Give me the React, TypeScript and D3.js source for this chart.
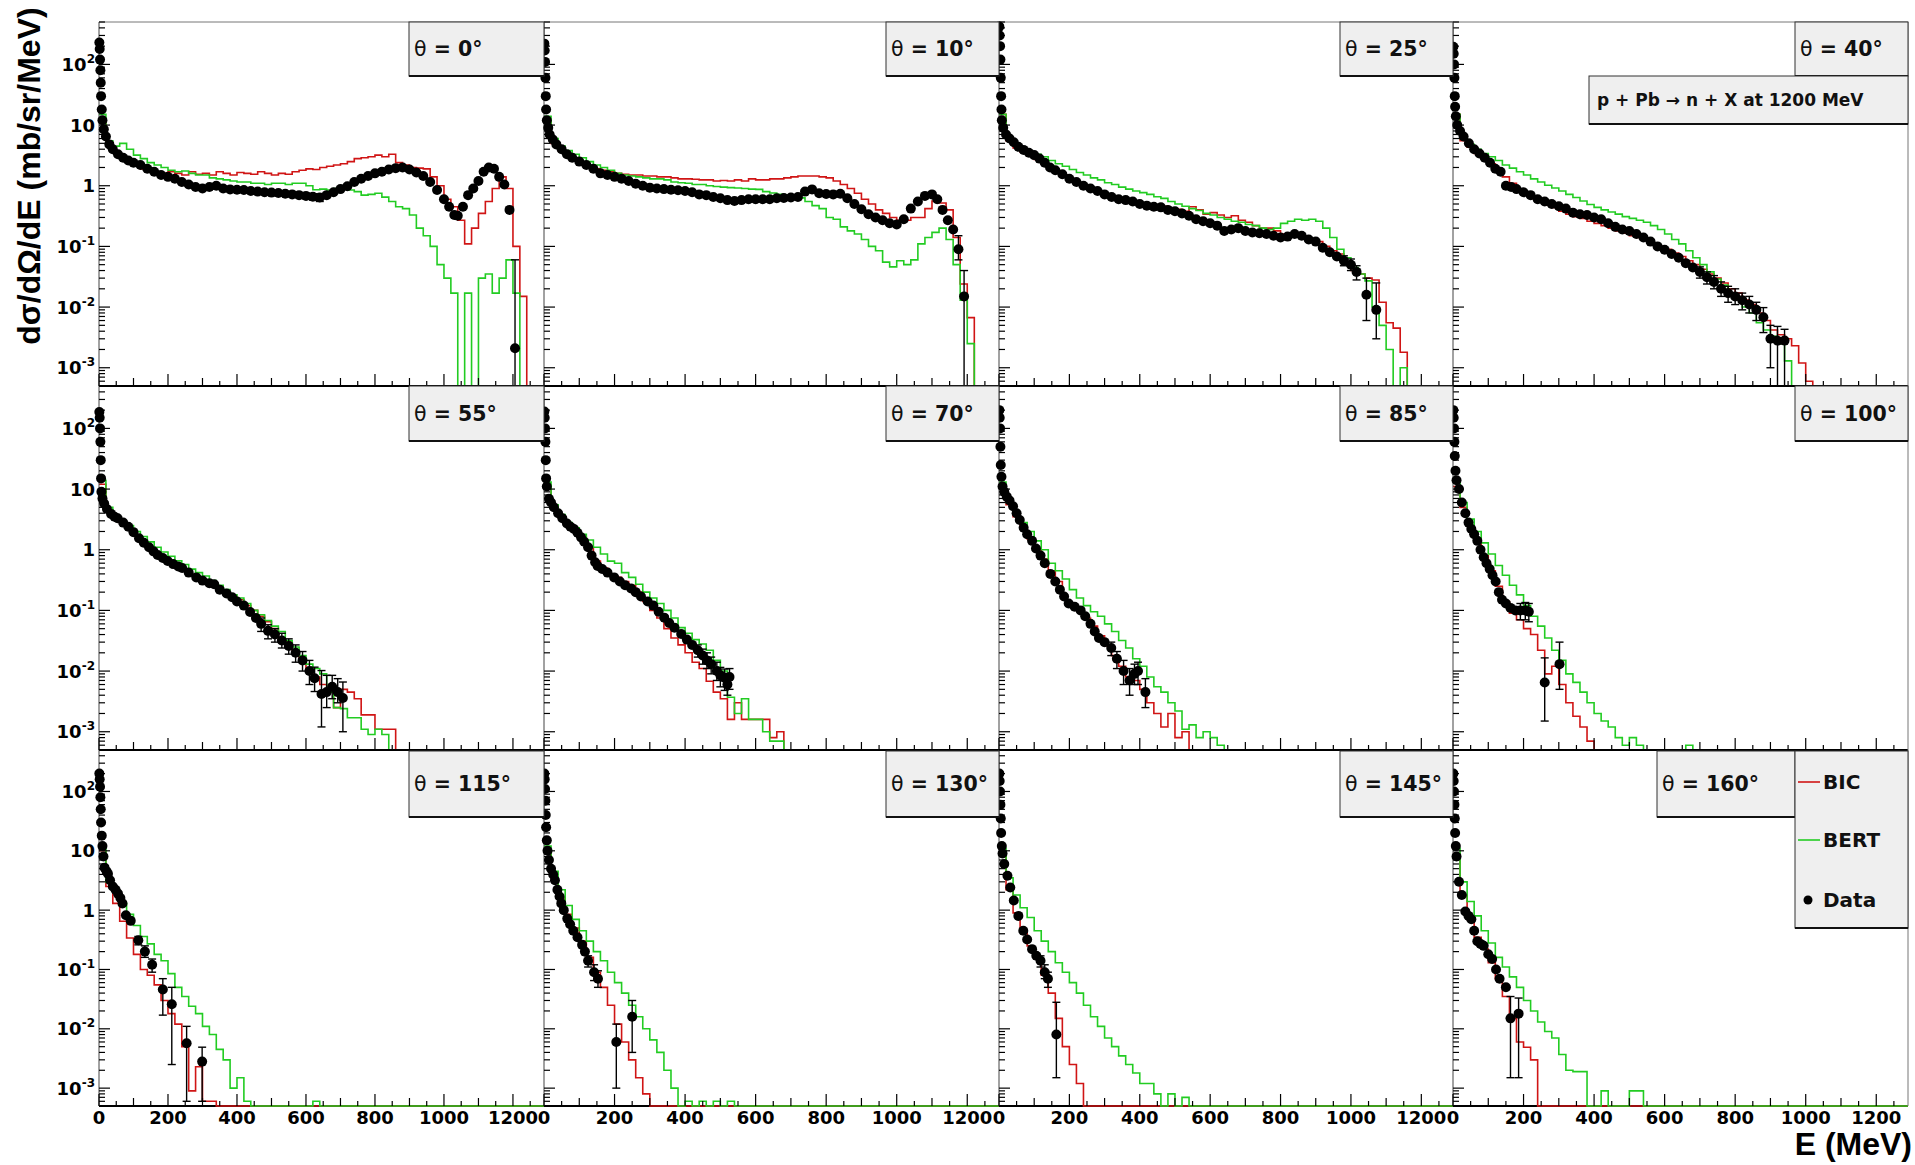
import React from "react";
import * as d3 from "d3";

// ---------- layout ----------
const WIDTH = 1915;
const HEIGHT = 1165;
const COL_EDGES = [99, 544, 999, 1453, 1908];
const ROW_EDGES = [22, 386, 750, 1106];
const E_MAX = 1290;
const Y_LO = 5e-4;
const Y_HI = 500;
const BIN_WIDTH = 20; // MeV, histogram bin width

const RED = "#d01515";
const GREEN = "#22cc22";
const TICK_FONT = "'DejaVu Sans', Verdana, sans-serif";
const TITLE_FONT = "'Liberation Sans', Arial, Helvetica, sans-serif";

// ---------- labels ----------
const angles = ["0", "10", "25", "40", "55", "70", "85", "100", "115", "130", "145", "160"];
const xTickValues = [0, 200, 400, 600, 800, 1000, 1200];
const yLabelValues = [1e-3, 1e-2, 1e-1, 1, 10, 100];
const yLabelBase = ["10", "10", "10", "1", "10", "10"];
const yLabelSup = ["-3", "-2", "-1", "", "", "2"];
const legendNames = ["BIC", "BERT", "Data"];

// ---------- BIC histograms (20 MeV bins from 0) ----------
const bic0 = [12,5,3.6,3.0,2.6,2.2,1.9,1.8,1.7,1.6, 1.7,1.6,1.5,1.7,1.55,1.6,1.5,1.7,1.6,1.5, 1.65,1.6,1.55,1.7,1.6,1.5,1.6,1.55,1.7,1.8, 1.9,1.85,2.0,2.1,2.2,2.3,2.5,2.8,2.9,3.0, 3.2,3.0,3.3,2.4,2.2,2.0,1.95,1.9,1.4,1.0, 0.6,0.45,0.27,0.11,0.2,0.35,0.55,0.9,1.4,0.9, 0.1,0.015];
const bic10 = [12,5.0,3.8,3.0,2.6,2.3,2.1,1.9,1.8,1.7, 1.6,1.55,1.5,1.5,1.45,1.45,1.4,1.4,1.35,1.3, 1.3,1.28,1.25,1.25,1.2,1.22,1.2,1.25,1.2,1.3, 1.25,1.25,1.3,1.3,1.35,1.4,1.45,1.45,1.45,1.4, 1.35,1.2,1.05,0.9,0.75,0.6,0.5,0.4,0.35,0.3, 0.27,0.27,0.3,0.3,0.42,0.56,0.52,0.4,0.14,0.024, 0.0067];
const bic25 = [15,5.5,4.2,3.6,3.2,2.7,2.3,2.0,1.7,1.5, 1.3,1.1,1.0,0.9,0.8,0.7,0.66,0.62,0.58,0.55, 0.5,0.48,0.47,0.46,0.43,0.41,0.38,0.45,0.4,0.34, 0.36,0.33,0.3,0.32,0.27,0.25,0.22,0.2,0.2,0.18, 0.16,0.16,0.16,0.15,0.13,0.12,0.1,0.085,0.075,0.055, 0.04,0.035,0.03,0.028,0.012,0.0055,0.0045,0.0018];
const bic40 = [15,5.5,4.3,3.4,2.8,2.3,1.8,1.4,1.1,0.88, 0.72,0.62,0.54,0.48,0.44,0.38,0.34,0.31,0.29,0.26, 0.24,0.22,0.2,0.18,0.165,0.15,0.14,0.125,0.11,0.1, 0.09,0.078,0.068,0.058,0.05,0.042,0.035,0.03,0.025,0.02, 0.017,0.013,0.011,0.008,0.006,0.0042,0.0035,0.003,0.0023,0.0012, 0.0006];
const bic55 = [12,4.5,3.3,2.7,2.2,1.7,1.35,1.05,0.85,0.7, 0.6,0.52,0.45,0.39,0.34,0.3,0.27,0.23,0.2,0.17, 0.15,0.12,0.1,0.08,0.065,0.05,0.032,0.03,0.022,0.016, 0.011,0.008,0.006,0.0045,0.0025,0.005,0.0045,0.0035,0.0019,0.0019, 0.0011,0.0011,0.0011];
const bic70 = [11,5,3.4,2.6,2.1,1.6,1.1,0.65,0.5,0.4, 0.35,0.3,0.26,0.2,0.14,0.1,0.075,0.05,0.035,0.027, 0.02,0.014,0.011,0.0068,0.0045,0.0035,0.0016,0.003,0.0016,0.0016, 0.0016,0.0016,0.0008,0.001];
const bic85 = [11,5.5,3.5,2.2,1.5,1.0,0.7,0.45,0.3,0.15, 0.12,0.1,0.075,0.055,0.038,0.026,0.018,0.012,0.008,0.007, 0.005,0.003,0.002,0.0012,0.002,0.0008,0.001];
const bic100 = [11,5,2.5,1.4,0.8,0.45,0.25,0.14,0.09,0.07, 0.05,0.04,0.022,0.009,0.012,0.006,0.003,0.0018,0.0012,0.0007];
const bic115 = [10,2.5,1.3,0.65,0.34,0.18,0.1,0.08,0.055,0.03, 0.018,0.012,0.005,0.0009,0.0023,0.0006,0.0006,0.0005];
const bic130 = [10,3.5,1.6,0.85,0.5,0.3,0.16,0.09,0.05,0.025, 0.012,0.006,0.003,0.0015,0.0008];
const bic145 = [9,2.2,0.9,0.45,0.25,0.15,0.08,0.04,0.015,0.005, 0.0025,0.0012];
const bic160 = [9,1.8,0.7,0.35,0.22,0.13,0.07,0.035,0.015,0.006, 0.0049,0.003];

// ---------- BERT histograms (20 MeV bins from 0) ----------
const bert0 = [15,5.5,4.5,5.0,4.0,3.2,2.8,2.4,2.2,2.0, 1.8,1.7,1.75,1.6,1.5,1.5,1.35,1.3,1.25,1.2, 1.15,1.15,1.1,1.1,1.05,1.1,1.1,1.05,1.1,1.1, 1.0,0.86,0.88,0.85,0.9,0.95,0.85,0.8,0.7,0.72, 0.75,0.65,0.55,0.45,0.42,0.33,0.2,0.15,0.1,0.05, 0.03,0.017,0,0.017,0,0.03,0.035,0.017,0.03,0.06, 0.017,0];
const bert10 = [14,6,4.5,3.8,3.3,2.9,2.5,2.2,2.0,1.8, 1.6,1.5,1.45,1.4,1.35,1.3,1.3,1.25,1.15,1.12, 1.1,1.05,1.05,1.0,0.97,0.95,0.93,0.92,0.9,0.88, 0.87,0.8,0.76,0.72,0.7,0.67,0.63,0.55,0.47,0.42, 0.3,0.28,0.21,0.18,0.16,0.13,0.1,0.085,0.055,0.046, 0.058,0.05,0.06,0.11,0.14,0.17,0.2,0.13,0.05,0.013, 0.0025];
const bert25 = [15,6,4.8,4.0,3.6,3.3,3.0,2.6,2.3,2.1, 1.85,1.65,1.5,1.35,1.25,1.12,1.05,0.95,0.88,0.82, 0.77,0.72,0.66,0.62,0.55,0.5,0.46,0.42,0.39,0.35, 0.33,0.3,0.28,0.26,0.25,0.23,0.22,0.2,0.19,0.2, 0.24,0.26,0.28,0.27,0.28,0.26,0.2,0.14,0.09,0.065, 0.045,0.035,0.027,0.01,0.005,0.002,0,0.001];
const bert40 = [15,6,4.8,4.0,3.4,3.0,2.6,2.2,1.95,1.7, 1.5,1.3,1.15,1.02,0.92,0.82,0.72,0.64,0.56,0.49, 0.44,0.4,0.37,0.34,0.31,0.29,0.27,0.25,0.22,0.19, 0.16,0.13,0.11,0.085,0.065,0.05,0.038,0.029,0.023,0.017, 0.014,0.01,0.008,0.0055,0.0042,0.0033,0.0025,0.0013,0,0, 0.0005];
const bert55 = [14,5,3.6,2.9,2.5,2.0,1.65,1.35,1.1,0.92, 0.78,0.66,0.57,0.48,0.42,0.37,0.31,0.26,0.22,0.18, 0.16,0.13,0.1,0.085,0.068,0.055,0.045,0.032,0.025,0.018, 0.013,0.011,0.009,0.0045,0.0025,0.0024,0.0017,0.0017,0.0011,0.0009, 0.0011,0.0009];
const bert70 = [13,5.5,3.8,2.8,2.3,1.8,1.45,1.1,0.85,0.65, 0.6,0.42,0.35,0.27,0.2,0.16,0.13,0.1,0.075,0.052, 0.042,0.033,0.028,0.022,0.015,0.01,0.0037,0.002,0.0035,0.0016, 0.0016,0.001,0.0007,0.0007];
const bert85 = [13,6,4.2,2.8,2.0,1.4,1.0,0.6,0.45,0.33, 0.22,0.16,0.12,0.095,0.08,0.06,0.045,0.032,0.024,0.016, 0.012,0.008,0.0055,0.0045,0.003,0.0022,0.0011,0.0013,0.0008,0.001, 0.0008,0.0006];
const bert100 = [13,6,3.2,2.0,1.3,0.85,0.55,0.38,0.26,0.18, 0.12,0.08,0.055,0.035,0.022,0.015,0.009,0.0065,0.0045,0.003, 0.002,0.0015,0.0012,0.0008,0.0006,0.0008,0.0006,0,0,0, 0,0,0,0.0006];
const bert115 = [11,3.0,2.0,1.3,0.85,0.55,0.36,0.27,0.18,0.14, 0.085,0.05,0.035,0.024,0.018,0.011,0.008,0.0045,0.003,0.001, 0.0015,0.0006,0,0,0,0,0,0,0,0, 0,0.0006];
const bert130 = [12,4.5,2.2,1.2,0.7,0.45,0.3,0.2,0.14,0.09, 0.06,0.04,0.025,0.016,0.01,0.0065,0.004,0.002,0.001,0, 0.0006,0,0.0006,0,0.0006,0,0.0006];
const bert145 = [11,3.5,1.8,1.1,0.75,0.45,0.3,0.2,0.13,0.09, 0.06,0.04,0.025,0.016,0.011,0.007,0.005,0.0035,0.0025,0.0018, 0.0012,0.0012,0.0008,0,0.0008,0,0.0007];
const bert160 = [11,3,1.4,0.8,0.45,0.28,0.16,0.11,0.075,0.05, 0.03,0.02,0.013,0.009,0.007,0.0037,0.002,0.0019,0.0019,0, 0,0.0009,0,0,0,0.0009,0.0009];

// ---------- measured data: [E, value, errLow, errHigh] ----------
const data0 = [[1,230],[2,180],[3,120],[4,80],[5,50],[6,30],[8,18],[10,12],[14,8.5],[20,6.5],[30,4.8],[40,4.0],[55,3.3],[70,2.9],[85,2.6],[100,2.4],[120,2.2],[140,1.9],[160,1.7],[180,1.5],[200,1.4],[220,1.3],[240,1.15],[260,1.05],[280,0.95],[300,0.9],[320,0.95],[340,1.0],[360,0.9],[380,0.87],[400,0.86],[420,0.85],[440,0.82],[460,0.8],[480,0.78],[500,0.77],[520,0.76],[540,0.74],[560,0.72],[580,0.7,0.06,0.06],[600,0.68,0.07,0.07],[620,0.66,0.08,0.08],[640,0.64,0.09,0.09],[660,0.7,0.06,0.06],[680,0.78],[700,0.88],[720,0.98],[740,1.15],[760,1.3],[780,1.45],[800,1.6],[820,1.7],[840,1.85],[860,1.95],[880,2.0],[900,1.85],[920,1.65],[940,1.45],[960,1.15],[980,0.85],[1000,0.6],[1015,0.45],[1030,0.33],[1040,0.32],[1055,0.45],[1070,0.7],[1085,0.9],[1100,1.2],[1115,1.7],[1130,2.0],[1145,1.9],[1160,1.4],[1175,1.05],[1190,0.4],[1206,0.0021,0.0021,0.058]];
const data10 = [[1,220],[2,170],[3,110],[4,60],[5,30],[6,18],[8,12],[12,9],[16,7],[25,5.8],[35,4.8],[50,4.0],[65,3.3],[80,2.9],[100,2.5],[120,2.2],[140,1.9],[160,1.6],[180,1.5],[200,1.4],[220,1.3],[240,1.2],[260,1.08],[280,1.0],[300,0.93],[320,0.9],[340,0.88],[360,0.86],[380,0.84],[400,0.82],[420,0.78],[440,0.72],[460,0.7],[480,0.65],[500,0.62],[520,0.58],[540,0.56],[560,0.58],[580,0.6],[600,0.6],[620,0.6],[640,0.6],[660,0.62],[680,0.63],[700,0.64],[720,0.65],[740,0.8],[760,0.87],[780,0.75],[800,0.73],[820,0.72],[840,0.74],[860,0.62],[880,0.5],[900,0.41],[920,0.34],[940,0.3],[960,0.27],[980,0.24],[1000,0.23],[1020,0.28],[1040,0.42],[1060,0.55],[1080,0.68],[1100,0.72],[1115,0.6],[1130,0.4],[1145,0.27],[1160,0.19],[1175,0.09,0.03,0.06],[1191,0.015,0.015,0.025]];
const data25 = [[1,420],[2,300],[3,200],[4,120],[5,60],[6,30],[7,18],[8,12],[12,9],[20,7],[30,6],[42,5.2],[55,4.4],[70,3.9],[85,3.5],[100,3.2],[115,2.8],[130,2.4],[145,2.0],[160,1.8],[180,1.55],[200,1.3],[220,1.15],[240,1.0],[260,0.9],[280,0.82],[300,0.72],[320,0.65],[340,0.6],[360,0.58],[380,0.55],[400,0.5],[420,0.47],[440,0.45],[460,0.44],[480,0.4],[500,0.38],[520,0.35],[540,0.32],[560,0.28],[580,0.26],[600,0.24],[620,0.22],[640,0.18],[660,0.19],[680,0.2],[700,0.18],[720,0.17],[740,0.165],[760,0.16],[780,0.15],[800,0.14],[820,0.145],[840,0.16],[860,0.15],[880,0.13],[900,0.12],[920,0.095],[940,0.08],[960,0.068],[980,0.058,0.01,0.012],[1000,0.05,0.01,0.012],[1016,0.038,0.01,0.01],[1044,0.016,0.01,0.014],[1072,0.009,0.006,0.016]];
const data40 = [[1,195],[2,150],[3,100],[4,60],[5,30],[6,20],[8,14],[12,10],[20,8],[30,6.5],[45,5],[60,4.0],[75,3.4],[90,2.9],[105,2.4],[120,1.9],[135,1.7],[150,1.0],[165,0.95],[180,0.88],[200,0.78],[220,0.7],[240,0.6],[260,0.55],[280,0.5],[300,0.46],[320,0.42],[340,0.36],[360,0.34],[380,0.33],[400,0.3],[420,0.28],[440,0.24],[460,0.21],[480,0.19],[500,0.18],[520,0.16],[540,0.14],[560,0.12],[580,0.1],[600,0.088],[620,0.075],[640,0.065],[660,0.053],[680,0.045],[700,0.038,0.008,0.008],[720,0.031,0.007,0.007],[740,0.026,0.006,0.007],[760,0.02,0.005,0.006],[780,0.017,0.005,0.005],[800,0.015,0.004,0.005],[820,0.013,0.004,0.004],[840,0.011,0.003,0.004],[860,0.009,0.003,0.003],[880,0.0068,0.003,0.003],[900,0.003,0.002,0.002],[920,0.0028,0.0028,0.002],[940,0.0028,0.0028,0.0015]];
const data55 = [[1,187],[2,150],[3,100],[4,60],[5,30],[6,15],[7,9],[10,7],[15,5.8],[23,4.7],[35,3.9],[45,3.5],[54,3.3],[70,2.8],[85,2.4],[100,1.95],[116,1.55],[130,1.3],[145,1.1],[158,0.94],[170,0.82],[185,0.73],[199,0.65],[215,0.58],[230,0.53],[241,0.5],[260,0.42],[282,0.35],[300,0.31],[320,0.28],[334,0.27],[350,0.22],[370,0.19],[386,0.165],[400,0.14],[420,0.12],[438,0.094],[455,0.075],[470,0.06,0.015,0.015],[490,0.046,0.012,0.012],[510,0.04,0.01,0.01],[530,0.032,0.008,0.01],[550,0.026,0.007,0.008],[570,0.02,0.006,0.007],[590,0.015,0.005,0.006],[610,0.01,0.004,0.005],[625,0.0076,0.003,0.004],[645,0.0042,0.003,0.006],[660,0.0045,0.002,0.004],[676,0.0055,0.002,0.003],[692,0.0045,0.0015,0.003],[707,0.0036,0.0026,0.003]];
const data70 = [[1,190],[2,150],[3,100],[4,60],[5,30],[6,15],[8,11],[14,6.9],[20,6],[28,5],[40,4],[52,3.3],[65,2.7],[75,2.4],[85,2.2],[95,1.9],[105,1.6],[114,1.35],[125,1.1],[135,0.8],[145,0.62],[152,0.54],[165,0.48],[180,0.42],[199,0.35],[215,0.3],[230,0.26],[247,0.23],[260,0.2],[275,0.17],[294,0.14],[310,0.12],[325,0.095],[341,0.076],[355,0.062],[370,0.052],[389,0.041],[405,0.033],[420,0.027],[436,0.022,0.005,0.005],[450,0.018,0.005,0.005],[462,0.015,0.004,0.005],[474,0.013,0.004,0.004],[490,0.01,0.003,0.004],[500,0.0085,0.003,0.003],[512,0.0078,0.003,0.003],[520,0.006,0.002,0.003],[526,0.008,0.003,0.003]];
const data85 = [[1,200],[2,150],[3,100],[4,50],[5,25],[7,16],[10,11],[15,9],[22,7.5],[30,6.5],[40,5.2],[50,4],[59,3.1],[70,2.3],[80,1.8],[94,1.4],[105,1.05],[118,0.8],[130,0.6],[146,0.4],[160,0.3],[173,0.22],[185,0.17],[198,0.13],[215,0.115],[232,0.1],[245,0.08],[260,0.06],[272,0.045],[284,0.035],[300,0.03],[319,0.024,0.006,0.006],[335,0.016,0.005,0.005],[354,0.01,0.004,0.005],[371,0.007,0.003,0.004],[385,0.009,0.003,0.004],[395,0.01,0.004,0.004],[416,0.0045,0.002,0.003]];
const data100 = [[1,200],[2,150],[3,100],[4,60],[5,35],[7,20],[10,14],[17,10],[25,6],[35,4],[44,2.8],[52,2.2],[60,1.8],[69,1.4],[78,1.0],[87,0.75],[95,0.6],[104,0.48],[112,0.38],[121,0.3],[130,0.2],[139,0.15],[150,0.13],[163,0.11],[177,0.1],[191,0.1,0.03,0.03],[205,0.1,0.03,0.035],[215,0.095,0.03,0.035],[260,0.0065,0.005,0.01],[302,0.013,0.008,0.017]];
const data115 = [[1,200],[2,160],[3,120],[4,80],[5,50],[6,30],[8,18],[10,12],[13,8],[16,5.2],[22,4.5],[26,4.1],[32,3.2],[40,2.5],[48,2.2],[55,1.9],[62,1.6],[68,1.3],[78,0.82],[92,0.66],[114,0.31,0.05,0.05],[133,0.2,0.04,0.05],[154,0.12,0.03,0.03],[185,0.046,0.029,0.024],[211,0.026,0.0235,0.024],[254,0.0057,0.0051,0.0053],[299,0.0028,0.0022,0.0021]];
const data130 = [[1,200],[2,160],[3,110],[4,70],[5,40],[6,25],[8,15],[10,10],[14,7],[20,5],[26,4],[31,3.2],[38,2.2],[44,1.7],[49,1.3],[56,1.0],[66,0.72],[74,0.58],[83,0.45],[95,0.35],[108,0.26],[116,0.2],[125,0.14,0.03,0.03],[142,0.09,0.025,0.03],[153,0.07,0.02,0.025],[205,0.006,0.005,0.006],[250,0.016,0.012,0.014]];
const data145 = [[1,200],[2,150],[3,100],[4,60],[5,35],[6,20],[8,12],[10,9],[15,6],[24,3.8],[32,2.4],[42,1.45],[55,0.8],[69,0.45],[80,0.32],[94,0.22],[106,0.17],[118,0.14,0.03,0.03],[130,0.09,0.02,0.03],[139,0.07,0.02,0.02],[163,0.008,0.0065,0.02]];
const data160 = [[1,200],[2,150],[3,100],[4,60],[5,35],[6,20],[8,12],[10,8],[17,3],[25,1.8],[35,0.95],[44,0.8],[52,0.7],[60,0.45],[69,0.3],[78,0.27],[87,0.25],[100,0.18],[111,0.15],[122,0.1],[132,0.07],[150,0.05],[163,0.015,0.0135,0.02],[186,0.018,0.0165,0.015]];

const bicSeries = [bic0, bic10, bic25, bic40, bic55, bic70, bic85, bic100, bic115, bic130, bic145, bic160];
const bertSeries = [bert0, bert10, bert25, bert40, bert55, bert70, bert85, bert100, bert115, bert130, bert145, bert160];
const dataSeries = [data0, data10, data25, data40, data55, data70, data85, data100, data115, data130, data145, data160];

const BOX_ROWS = [[22, 76], [386, 441], [751, 817]];
const MARKER_R = 5;

function Panel({ idx }: { idx: number }) {
  const col = idx % 4;
  const row = Math.floor(idx / 4);
  const left = COL_EDGES[col];
  const right = COL_EDGES[col + 1];
  const top = ROW_EDGES[row];
  const bottom = ROW_EDGES[row + 1];
  const x = d3.scaleLinear().domain([0, E_MAX]).range([left, right]);
  const y = d3.scaleLog().domain([Y_LO, Y_HI]).range([bottom, top]);
  const yv = (v: number) => (v > Y_LO ? y(v) : bottom);
  const step = d3
    .line<number[]>()
    .x((d) => x(d[0]))
    .y((d) => yv(d[1]))
    .curve(d3.curveStepAfter);
  const hist = (vals: number[]) => {
    const pts = vals.map((v, i) => [i * BIN_WIDTH, v]);
    pts.push([vals.length * BIN_WIDTH, 0], [E_MAX, 0]);
    return step(pts) || "";
  };
  const clipId = `clip-${idx}`;
  const isBottom = row === 2;

  const yTicks: [number, boolean][] = [];
  for (let e = -4; e <= 2; e++) {
    for (let k = 1; k <= 9; k++) {
      const v = k * Math.pow(10, e);
      if (v >= Y_LO * 0.999 && v <= Y_HI * 1.001) yTicks.push([v, k === 1]);
    }
  }
  const xTicks = d3.range(0, E_MAX + 1, 50);

  const bottomAxis = (
    <line x1={left} x2={right} y1={bottom} y2={bottom} stroke="#000" strokeWidth={2.2} />
  );

  return (
    <g>
      <defs>
        <clipPath id={clipId}>
          <rect x={left} y={top} width={right - left} height={bottom - top + 2} />
        </clipPath>
      </defs>
      {isBottom && bottomAxis}
      <g clipPath={`url(#${clipId})`} fill="none" strokeWidth={1.6}>
        <path d={hist(bicSeries[idx])} stroke={RED} />
        <path d={hist(bertSeries[idx])} stroke={GREEN} />
      </g>
      {!isBottom && bottomAxis}
      <line x1={left} x2={left} y1={top} y2={bottom} stroke="#444" strokeWidth={1} />
      {row === 0 && <line x1={left} x2={right} y1={top} y2={top} stroke="#777" strokeWidth={1} />}
      {col === 3 && <line x1={right} x2={right} y1={top} y2={bottom} stroke="#777" strokeWidth={1} />}
      <g stroke="#000" strokeWidth={1.2}>
        {yTicks.map(([v, major], i) => (
          <line key={`yt${i}`} x1={left} x2={left + (major ? 11 : 6)} y1={y(v)} y2={y(v)} />
        ))}
        {xTicks.map((v, i) => (
          <line
            key={`xt${i}`}
            x1={x(v)}
            x2={x(v)}
            y1={bottom}
            y2={bottom - (v % 200 === 0 ? 12 : v % 100 === 0 ? 8 : 5)}
          />
        ))}
      </g>
      {col === 0 &&
        yLabelValues.map((v, i) => (
          <text
            key={`yl${i}`}
            x={95}
            y={y(v) + 6.5}
            textAnchor="end"
            fontFamily={TICK_FONT}
            fontWeight="bold"
            fontSize={18}
            fill="#000"
          >
            {yLabelBase[i]}
            {yLabelSup[i] && (
              <tspan fontSize={12} dy={-8}>
                {yLabelSup[i]}
              </tspan>
            )}
          </text>
        ))}
      {isBottom &&
        xTickValues.map((v, i) => (
          <text
            key={`xl${i}`}
            x={x(v)}
            y={1124}
            textAnchor="middle"
            fontFamily={TICK_FONT}
            fontWeight="bold"
            fontSize={18}
            fill="#000"
          >
            {v}
          </text>
        ))}
      <g>
        {dataSeries[idx].map((d, i) => {
          const [e, v, lo, hi] = d;
          const cx = x(e);
          const cy = yv(v);
          const hasErr = lo !== undefined;
          const yTop = hasErr ? yv(v + hi) : cy;
          const yBot = hasErr ? yv(v - lo) : cy;
          return (
            <g key={`d${i}`}>
              {hasErr && (
                <g stroke="#000" strokeWidth={1.4}>
                  <line x1={cx} x2={cx} y1={yTop} y2={yBot} />
                  <line x1={cx - 4} x2={cx + 4} y1={yTop} y2={yTop} />
                  {v - lo > Y_LO && <line x1={cx - 4} x2={cx + 4} y1={yBot} y2={yBot} />}
                  <line x1={x(e - 12)} x2={x(e + 12)} y1={cy} y2={cy} />
                </g>
              )}
              <circle cx={cx} cy={cy} r={MARKER_R} fill="#000" />
            </g>
          );
        })}
      </g>
    </g>
  );
}

function Box({ x0, x1, y0, y1 }: { x0: number; x1: number; y0: number; y1: number }) {
  return (
    <g>
      <rect x={x0} y={y0} width={x1 - x0} height={y1 - y0} fill="#efefef" stroke="#333" strokeWidth={1} />
      <line x1={x0} x2={x1} y1={y1} y2={y1} stroke="#111" strokeWidth={2} />
    </g>
  );
}

function AngleLabel({ idx }: { idx: number }) {
  const col = idx % 4;
  const row = Math.floor(idx / 4);
  const [y0, y1] = BOX_ROWS[row];
  let x1 = COL_EDGES[col + 1];
  let x0 = col === 0 ? x1 - 135 : x1 - 113;
  if (idx === 11) {
    x1 = 1795;
    x0 = 1657;
  }
  return (
    <g>
      <Box x0={x0} x1={x1} y0={y0} y1={y1} />
      <text
        x={x0 + 5}
        y={(y0 + y1) / 2 + 7}
        fontFamily={TICK_FONT}
        fontWeight="bold"
        fontSize={20.5}
        fill="#111"
      >
        <tspan fontWeight="normal">θ</tspan>
        {` = ${angles[idx]}°`}
      </text>
    </g>
  );
}

export default function App() {
  const legendY = [782, 840, 900];
  return (
    <svg
      width={WIDTH}
      height={HEIGHT}
      style={{ position: "fixed", left: 0, top: 0, background: "#fff" }}
      xmlns="http://www.w3.org/2000/svg"
    >
      <rect x={0} y={0} width={WIDTH} height={HEIGHT} fill="#fff" />
      {angles.map((_, i) => (
        <Panel key={i} idx={i} />
      ))}
      {angles.map((_, i) => (
        <AngleLabel key={`a${i}`} idx={i} />
      ))}
      {/* reaction label */}
      <Box x0={1589} x1={1908} y0={76} y1={124} />
      <text x={1597} y={106} fontFamily={TICK_FONT} fontWeight="bold" fontSize={17} fill="#111">
        p + Pb → n + X at 1200 MeV
      </text>
      {/* legend */}
      <Box x0={1795} x1={1908} y0={751} y1={928} />
      <line x1={1798} x2={1820} y1={legendY[0]} y2={legendY[0]} stroke={RED} strokeWidth={1.6} />
      <line x1={1798} x2={1820} y1={legendY[1]} y2={legendY[1]} stroke={GREEN} strokeWidth={1.6} />
      <circle cx={1808} cy={legendY[2]} r={4.5} fill="#000" />
      {legendNames.map((n, i) => (
        <text
          key={n}
          x={1823}
          y={legendY[i] + 7}
          fontFamily={TICK_FONT}
          fontWeight="bold"
          fontSize={20}
          fill="#111"
        >
          {n}
        </text>
      ))}
      {/* axis titles */}
      <g transform="translate(40,176) rotate(-90)">
        <text
          x={0}
          y={0}
          textAnchor="middle"
          fontFamily={TITLE_FONT}
          fontWeight="bold"
          fontSize={32}
          fill="#000"
        >
          dσ/dΩ/dE (mb/sr/MeV)
        </text>
      </g>
      <text
        x={1912}
        y={1155}
        textAnchor="end"
        fontFamily={TITLE_FONT}
        fontWeight="bold"
        fontSize={32}
        fill="#000"
      >
        E (MeV)
      </text>
    </svg>
  );
}
